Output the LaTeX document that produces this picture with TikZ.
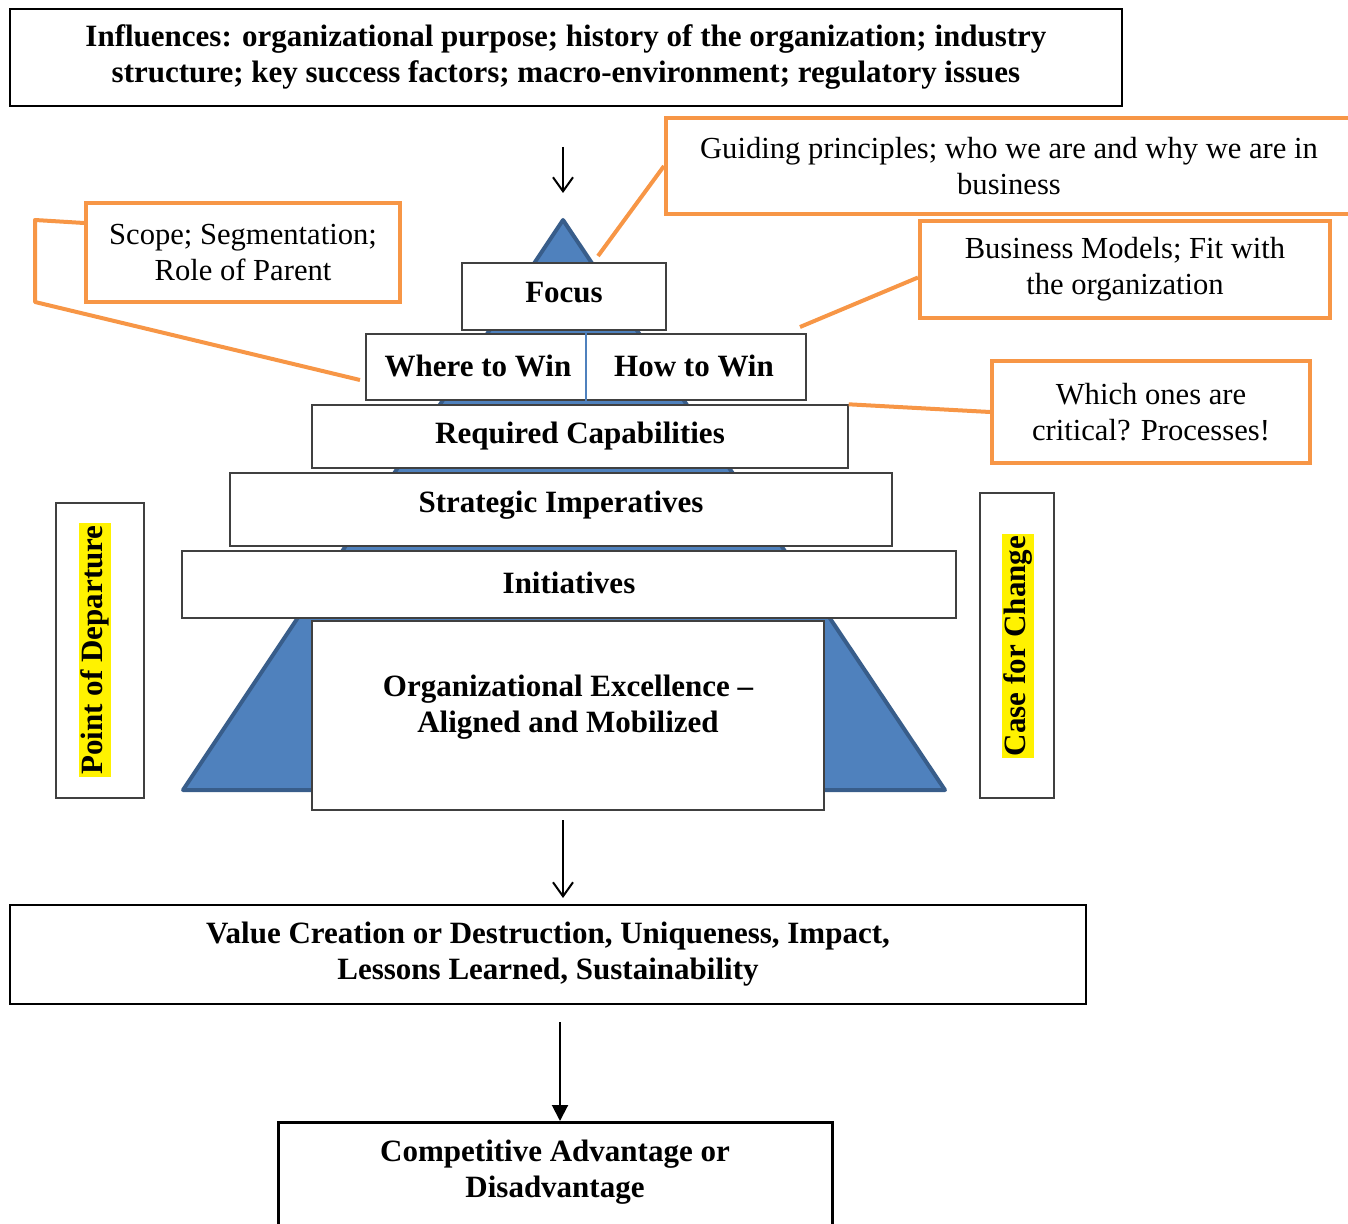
\documentclass[tikz,border=0pt]{standalone}
\usepackage{fontspec}
\setmainfont{Liberation Serif}
\usetikzlibrary{arrows.meta}
\definecolor{pyrfill}{HTML}{4F81BD}
\definecolor{pyrline}{HTML}{385D8A}
\definecolor{callout}{HTML}{F79646}
\definecolor{tierline}{HTML}{404040}

\begin{document}
\begin{tikzpicture}[x=0.5pt,y=-0.5pt]
\tikzstyle{tier} = [draw=tierline,fill=white,line width=0.7pt,inner sep=0pt,font=\bfseries\fontsize{15.5}{18}\selectfont]
\tikzstyle{frame} = [draw=black,fill=white,line width=1pt,inner sep=0pt,align=center,font=\bfseries\fontsize{15.5}{18}\selectfont]
\tikzstyle{note} = [draw=callout,fill=white,line width=2pt,inner sep=0pt,align=center,font=\fontsize{15.3}{18}\selectfont]
\tikzstyle{lead} = [draw=callout,line width=2pt,line join=round]
\tikzstyle{side} = [draw=tierline,line width=0.8pt,inner sep=0pt]
\tikzstyle{hilite} = [fill=yellow,inner sep=1pt,rotate=90,font=\bfseries\fontsize{15.5}{18}\selectfont]
\tikzstyle{txt} = [inner sep=0pt,align=center,yshift=-1.5pt,font=\bfseries\fontsize{15.5}{18}\selectfont]
\tikzstyle{flow} = [line width=1pt,-{Straight Barb[length=7pt,width=10pt]}]
\tikzstyle{flowb} = [line width=1pt,-{Triangle[length=8pt,width=8pt]}]

\pgfdeclarelayer{background}
\pgfsetlayers{background,main}

\useasboundingbox (0,0) rectangle (1348,1224);

% top box
\node[frame,minimum width=556pt,minimum height=48.5pt] (infl) at (566,57.5)
  {Influences: organizational purpose; history of the organization; industry\\
   structure; key success factors; macro-environment; regulatory issues};

% pyramid tiers
\node[tier,minimum width=102pt,minimum height=33.5pt] (focus) at (564,296.5) {};
\node[txt] (focustxt) at (564,290) {Focus};
\node[tier,minimum width=220pt,minimum height=33pt] (win) at (586,367) {};
\node[txt] (where) at (478,363) {Where to Win};
\node[txt] (how) at (694,363) {How to Win};
\node[tier,minimum width=268pt,minimum height=31.5pt] (reqcap) at (580,436.5) {};
\node[txt] (reqcaptxt) at (580,433) {Required Capabilities};
\node[tier,minimum width=331pt,minimum height=36.5pt] (strat) at (561,509.5) {};
\node[txt] (strattxt) at (561,502) {Strategic Imperatives};
\node[tier,minimum width=387pt,minimum height=33.5pt] (init) at (569,584.5) {};
\node[txt] (inittxt) at (569,580) {Initiatives};
\node[tier,minimum width=256pt,minimum height=94.5pt] (orgex) at (568,715.5) {};
\node[txt] (orgextxt) at (568,704) {Organizational Excellence --\\Aligned and Mobilized};

% side boxes
\node[side,minimum width=44pt,minimum height=147.5pt] (pod) at (100,650.5) {};
\node[hilite] (podtxt) at (95,650) {Point of Departure};
\node[side,minimum width=37pt,minimum height=152.5pt] (cfc) at (1017,645.5) {};
\node[hilite] (cfctxt) at (1018,646) {Case for Change};

% callouts
\node[note,minimum width=343pt,minimum height=48pt] (guide) at (1009,166)
  {Guiding principles; who we are and why we are in\\business};
\node[note,minimum width=157pt,minimum height=49.5pt] (scope) at (243,252.5)
  {Scope; Segmentation;\\Role of Parent};
\node[note,minimum width=205pt,minimum height=48.5pt] (bizmod) at (1125,269.5)
  {Business Models; Fit with\\the organization};
\node[note,minimum width=159pt,minimum height=51pt] (which) at (1151,412)
  {Which ones are\\critical? Processes!};

% bottom boxes
\node[frame,minimum width=538pt,minimum height=49.5pt] (value) at (548,954.5)
  {Value Creation or Destruction, Uniqueness, Impact,\\Lessons Learned, Sustainability};
\node[frame,line width=1.5pt,minimum width=277pt,minimum height=59pt] (comp) at (555,1181) {};
\node[txt] (comptxt) at (555,1169) {Competitive Advantage or\\Disadvantage};

\coordinate (top) at (563,147);
\coordinate (apex) at (563,193);
\coordinate (focustip) at (598,256);
\coordinate (wintip) at (800,327);
\coordinate (scopebend1) at (35,220);
\coordinate (scopebend2) at (35,302);
\coordinate (scopetip) at (360,380);
\coordinate (outtop) at (563,820);
\coordinate (outend) at (563,898);
\coordinate (advtop) at (560,1022);
\coordinate (advend) at (560,1121);

\begin{pgfonlayer}{background}
\draw[fill=pyrfill,draw=pyrline,line width=2pt,line join=round] (563,220) -- (945,790) -- (183,790) -- cycle;
\end{pgfonlayer}

\draw[pyrfill,line width=0.6pt] (win.north) -- (win.south);

\draw[lead] ([yshift=-4pt]bizmod.west) -- (wintip);
\draw[lead] (guide.west) -- (focustip);
\draw[lead] (which.west) -- (reqcap.north east);
\draw[lead] (scope.north west |- 0,223) -- (scopebend1) -- (scopebend2) -- (scopetip);

\draw[flow] (top) -- (apex);
\draw[flow] (outtop) -- (outend);
\draw[flowb] (advtop) -- (advend);

\end{tikzpicture}
\end{document}
